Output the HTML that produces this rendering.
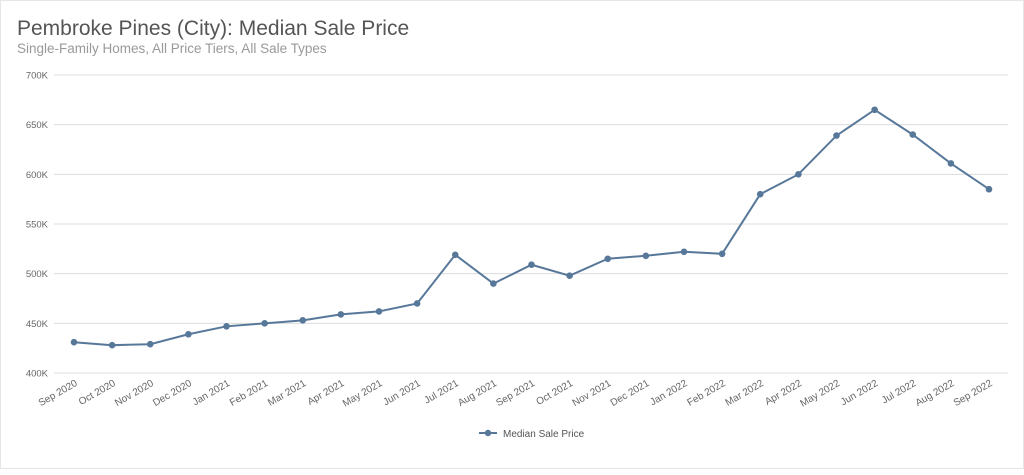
<!DOCTYPE html>
<html><head><meta charset="utf-8"><style>
body{margin:0;background:#fff;font-family:"Liberation Sans",sans-serif}
#wrap{position:relative;width:1022px;height:467px;border:1px solid #e6e6e6}
</style></head><body>
<div id="wrap">
<svg id="c" width="1024" height="469">
<text x="16" y="34" font-size="21" fill="#555">Pembroke Pines (City): Median Sale Price</text>
<text x="16" y="52" font-size="13.5" fill="#999">Single-Family Homes, All Price Tiers, All Sale Types</text>
<g id="grid"></g><g id="xl"></g><g id="plot"></g>
<g>
<line x1="478" y1="432" x2="496" y2="432" stroke="#58789a" stroke-width="2"/>
<circle cx="487" cy="432" r="3.2" fill="#58789a"/>
<text x="502" y="436" font-size="10" fill="#555">Median Sale Price</text>
</g>
</svg></div>
<script>
const categories=["Sep 2020","Oct 2020","Nov 2020","Dec 2020","Jan 2021","Feb 2021","Mar 2021","Apr 2021","May 2021","Jun 2021","Jul 2021","Aug 2021","Sep 2021","Oct 2021","Nov 2021","Dec 2021","Jan 2022","Feb 2022","Mar 2022","Apr 2022","May 2022","Jun 2022","Jul 2022","Aug 2022","Sep 2022"];
const values=[431,428,429,439,447,450,453,459,462,470,519,490,509,498,515,518,522,520,580,600,639,665,640,611,585];
const yTicks=[400,450,500,550,600,650,700];
const ns="http://www.w3.org/2000/svg";
const x0=73,x1=988,yTop=74,yBot=372,yMin=400,yMax=700;
const X=i=>x0+(x1-x0)*i/(categories.length-1);
const Y=v=>yBot-(v-yMin)/(yMax-yMin)*(yBot-yTop);
function mk(t,a,p){const e=document.createElementNS(ns,t);for(const k in a)e.setAttribute(k,a[k]);p.appendChild(e);return e;}
const g=document.getElementById('grid');
yTicks.forEach(v=>{
 const l=mk('line',{x1:53,x2:1007,y1:Y(v),y2:Y(v),stroke:'#dcdcdc','stroke-width':1},g);
 
 
 const t=mk('text',{x:47,y:Y(v)+3.5,'font-size':9.5,fill:'#666','text-anchor':'end'},g);
 t.textContent=v+'K';
 
 
});
const xl=document.getElementById('xl');
categories.forEach((c,i)=>{
 const t=mk('text',{x:X(i)+4,y:384,'font-size':10,fill:'#666','text-anchor':'end',transform:`rotate(-30 ${X(i)+4} 384)`},xl);
 t.textContent=c;
 
 
});
const p=document.getElementById('plot');
const line=mk('polyline',{points:values.map((v,i)=>X(i)+','+Y(v)).join(' '),fill:'none',stroke:'#58789a','stroke-width':2},p);


values.forEach((v,i)=>{
 const c=mk('circle',{cx:X(i),cy:Y(v),r:3.3,fill:'#58789a'},p);
 
 
});
</script>
</body></html>
